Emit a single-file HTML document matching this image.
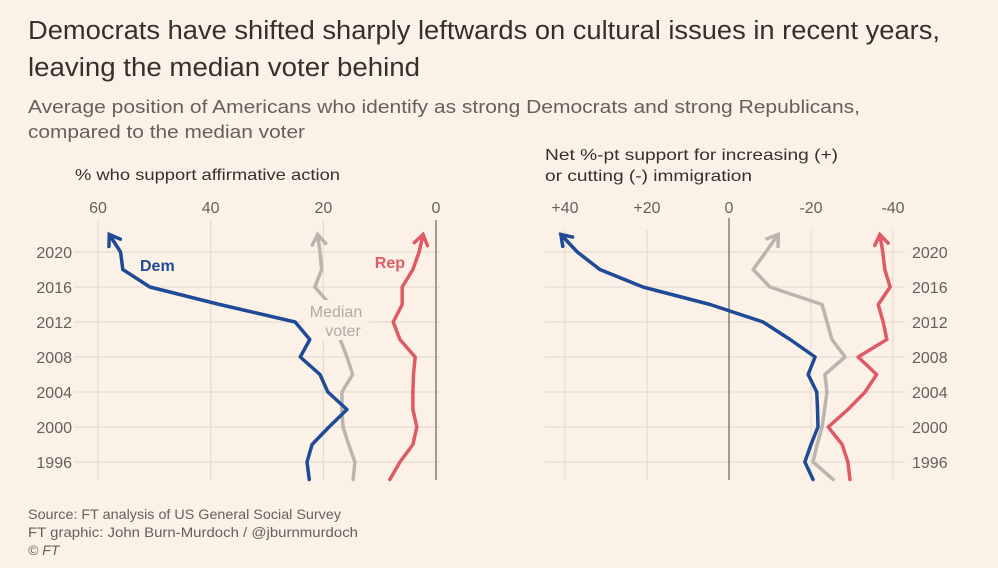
<!DOCTYPE html>
<html><head><meta charset="utf-8">
<style>
body{margin:0;background:#fcf1e6;}
#wrap{width:998px;height:568px;position:relative;background:#fcf1e6;font-family:"Liberation Sans",sans-serif;overflow:hidden}
</style></head>
<body>
<div id="wrap">
<svg id="svg" width="998" height="568" xmlns="http://www.w3.org/2000/svg" font-family="Liberation Sans, sans-serif">
<text x="28" y="39" font-size="25.5" fill="#33302e" textLength="912" lengthAdjust="spacingAndGlyphs">Democrats have shifted sharply leftwards on cultural issues in recent years,</text>
<text x="28" y="76" font-size="25.5" fill="#33302e" textLength="392" lengthAdjust="spacingAndGlyphs">leaving the median voter behind</text>
<text x="28" y="113" font-size="18.5" fill="#66605c" textLength="832" lengthAdjust="spacingAndGlyphs">Average position of Americans who identify as strong Democrats and strong Republicans,</text>
<text x="28" y="138" font-size="18.5" fill="#66605c" textLength="277" lengthAdjust="spacingAndGlyphs">compared to the median voter</text>
<text x="75" y="180" font-size="16" fill="#33302e" textLength="265" lengthAdjust="spacingAndGlyphs">% who support affirmative action</text>
<text x="545" y="160" font-size="16" fill="#33302e" textLength="293" lengthAdjust="spacingAndGlyphs">Net %-pt support for increasing (+)</text>
<text x="545" y="181" font-size="16" fill="#33302e" textLength="207" lengthAdjust="spacingAndGlyphs">or cutting (-) immigration</text>
<text x="28" y="519" font-size="14" fill="#66605c" textLength="313" lengthAdjust="spacingAndGlyphs">Source: FT analysis of US General Social Survey</text>
<text x="28" y="537" font-size="14" fill="#66605c" textLength="330" lengthAdjust="spacingAndGlyphs">FT graphic: John Burn-Murdoch / @jburnmurdoch</text>
<text x="28" y="555" font-size="14" fill="#66605c" font-style="italic">© FT</text>
<g id="left"></g>
<g id="right"></g>
</svg>
</div>
<script>
const years = [1994,1996,1998,2000,2002,2004,2006,2008,2010,2012,2014,2016,2018,2020,2022];
const yearTicks = [1996,2000,2004,2008,2012,2016,2020];
// Left: % who support affirmative action
const leftTicks = [60,40,20,0];
const leftDem = [22.5,22.9,22,19,15.8,19.2,20.6,24.1,22.4,25,38.4,50.8,55.6,56,58];
const leftMed = [14.7,14.4,15.5,16.5,16.7,16.7,14.8,15.8,17,18,18.8,21.5,20.3,20.6,21];
const leftRep = [8.2,6.4,4.1,3.4,4.1,4.1,4,3.7,6.4,7.6,6,6,4.1,3,2.3];
// Right: net support for increasing immigration
const rightTicks = [40,20,0,-20,-40];
const rightTickLabels = ["+40","+20","0","-20","-40"];
const rightDem = [-20.5,-18.5,-20,-21.7,-21.6,-21.4,-19.3,-21,-14.9,-8.3,4.6,21,31.5,37,41];
const rightMed = [-25.4,-20.5,-21.5,-22.7,-23.3,-23.9,-23.4,-28.3,-25.1,-23.9,-22.7,-10,-5.9,-9,-12];
const rightRep = [-29.5,-29,-27.6,-24.2,-29,-33.2,-36,-31.5,-38.5,-37.6,-36.4,-39.3,-38,-37.5,-36.8];

const NS="http://www.w3.org/2000/svg";
const yS = yr => 462 - (yr-1996)*8.75;
const lx = v => 436 - v*5.633;
const rx = v => 729 - v*4.1;
const DEM="#1f4a96", REP="#e05a66", MED="#bab5ae";

function mk(parent, tag, attrs){const e=document.createElementNS(NS,tag);for(const k in attrs)e.setAttribute(k,attrs[k]);parent.appendChild(e);return e;}

function series(g, vals, xs, color, name){
  const pts = vals.map((v,i)=>[xs(v), yS(years[i])]);
  const p = mk(g,'polyline',{points:pts.map(q=>q.join(',')).join(' '),fill:'none',stroke:color,'stroke-width':3.5,'stroke-linejoin':'round','stroke-linecap':'round'});
  
  
  const a=pts[pts.length-1], b=pts[pts.length-2];
  const ang=Math.atan2(a[1]-b[1],a[0]-b[0]);
  const L=12, s=0.6;
  const p1=[a[0]-L*Math.cos(ang-s), a[1]-L*Math.sin(ang-s)];
  const p2=[a[0]-L*Math.cos(ang+s), a[1]-L*Math.sin(ang+s)];
  const h = mk(g,'polyline',{points:`${p1} ${a} ${p2}`,fill:'none',stroke:color,'stroke-width':3.5,'stroke-linejoin':'miter','stroke-linecap':'round'});
  
  
}

// LEFT PANEL
const L=document.getElementById('left');
yearTicks.forEach(y=>{
  const l=mk(L,'line',{x1:74,x2:440,y1:yS(y),y2:yS(y),stroke:'#e6dcd2','stroke-width':1.3});
  
  
  const t=mk(L,'text',{x:72,y:yS(y)+6,'font-size':16,fill:'#66605c','text-anchor':'end'});t.textContent=y;
  
  
});
leftTicks.forEach(v=>{
  const l=mk(L,'line',{x1:lx(v),x2:lx(v),y1:220,y2:480,stroke:v===0?'#8c8580':'#e6dcd2','stroke-width':v===0?1.6:1.3});
  
  
  const t=mk(L,'text',{x:lx(v),y:213,'font-size':16,fill:'#66605c','text-anchor':'middle'});t.textContent=v;
  
  
});
series(L,leftMed,lx,MED,'left-median');
const bg=mk(L,'rect',{x:303,y:300,width:66,height:40,fill:'#fcf1e6'});


series(L,leftDem,lx,DEM,'left-dem');
series(L,leftRep,lx,REP,'left-rep');
[['Dem',140,271,DEM,'start','dem-label'],['Rep',405,268,REP,'end','rep-label'],['Median',336,317,'#b0aaa3','middle','median-label-1'],['voter',343,336,'#b0aaa3','middle','median-label-2']].forEach(d=>{
  const t=mk(L,'text',{x:d[1],y:d[2],'font-size':16,fill:d[3],'text-anchor':d[4],'font-weight':d[0]==='Dem'||d[0]==='Rep'?'bold':'normal'});t.textContent=d[0];
  
  
});

// RIGHT PANEL
const R=document.getElementById('right');
yearTicks.forEach(y=>{
  const l=mk(R,'line',{x1:545,x2:905,y1:yS(y),y2:yS(y),stroke:'#e6dcd2','stroke-width':1.3});
  
  
  const t=mk(R,'text',{x:912,y:yS(y)+6,'font-size':16,fill:'#66605c','text-anchor':'start'});t.textContent=y;
  
  
});
rightTicks.forEach((v,i)=>{
  const l=mk(R,'line',{x1:rx(v),x2:rx(v),y1:v===0?218:230,y2:480,stroke:v===0?'#8c8580':'#e6dcd2','stroke-width':v===0?1.6:1.3});
  
  
  const t=mk(R,'text',{x:rx(v),y:213,'font-size':16,fill:'#66605c','text-anchor':'middle'});t.textContent=rightTickLabels[i];
  
  
});
series(R,rightMed,rx,MED,'right-median');
series(R,rightRep,rx,REP,'right-rep');
series(R,rightDem,rx,DEM,'right-dem');
</script>
</body></html>
